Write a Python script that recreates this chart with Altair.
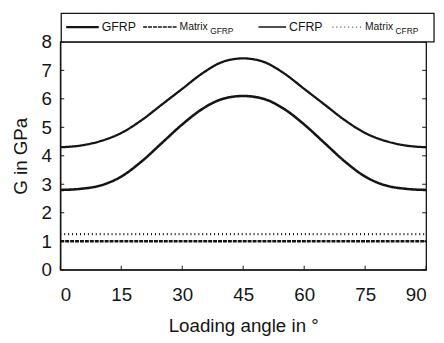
import altair as alt
import pandas as pd

angles = [0, 5, 10, 15, 20, 25, 30, 35, 40, 45, 50, 55, 60, 65, 70, 75, 80, 85, 90]
gfrp = [2.8, 2.84, 2.96, 3.27, 3.8, 4.45, 5.1, 5.65, 6.0, 6.1, 6.0, 5.65, 5.1, 4.45, 3.8, 3.27, 2.96, 2.84, 2.8]
cfrp = [4.3, 4.36, 4.52, 4.8, 5.25, 5.8, 6.35, 6.9, 7.3, 7.42, 7.3, 6.9, 6.35, 5.8, 5.25, 4.8, 4.52, 4.36, 4.3]
matrix_gfrp = [1.0] * len(angles)
matrix_cfrp = [1.25] * len(angles)
series_names = ["GFRP", "Matrix_GFRP", "CFRP", "Matrix_CFRP"]
x_ticks = [0, 15, 30, 45, 60, 75, 90]
y_ticks = [0, 1, 2, 3, 4, 5, 6, 7, 8]

rows = []
for name, vals in zip(series_names, [gfrp, matrix_gfrp, cfrp, matrix_cfrp]):
    for a, v in zip(angles, vals):
        rows.append({"angle": a, "G": v, "series": name})
df = pd.DataFrame(rows)

W, H = 371, 231
FONT = "Liberation Sans"
INK = "#151515"

xs = alt.Scale(domain=[0, 90], nice=False)
ys = alt.Scale(domain=[0, 8], nice=False)
x_axis = alt.Axis(values=x_ticks, title="Loading angle in °", ticks=False,
                  grid=False, labelPadding=16, titlePadding=13, labelOverlap=False)
y_axis = alt.Axis(values=y_ticks, title="G in GPa", ticks=False,
                  grid=False, labelPadding=9, titlePadding=11, labelOverlap=False)

lines = alt.Chart(df).mark_line(interpolate="monotone").encode(
    x=alt.X("angle:Q", scale=xs, axis=x_axis),
    y=alt.Y("G:Q", scale=ys, axis=y_axis),
    detail="series:N",
    color=alt.value(INK),
    strokeDash=alt.StrokeDash("series:N", legend=None,
                              scale=alt.Scale(domain=series_names,
                                              range=[[1, 0], [4, 1], [1, 0], [1, 3]])),
    strokeWidth=alt.StrokeWidth("series:N", legend=None,
                                scale=alt.Scale(domain=series_names, range=[2.6, 2.2, 1.7, 1.0])),
)

ytick_df = pd.DataFrame({"G": y_ticks})
xtick_df = pd.DataFrame({"angle": x_ticks})
yt_left = alt.Chart(ytick_df).mark_rule(color=INK, strokeWidth=1).encode(
    y=alt.Y("G:Q", scale=ys, axis=y_axis), x=alt.value(0), x2=alt.value(4))
yt_right = alt.Chart(ytick_df).mark_rule(color=INK, strokeWidth=1).encode(
    y=alt.Y("G:Q", scale=ys, axis=y_axis), x=alt.value(W - 4), x2=alt.value(W))
xt_bot = alt.Chart(xtick_df).mark_rule(color=INK, strokeWidth=1).encode(
    x=alt.X("angle:Q", scale=xs, axis=x_axis), y=alt.value(H - 4), y2=alt.value(H))

one = pd.DataFrame({"k": [0]})
LY = -15
box = alt.Chart(one).mark_rect(fill="white", stroke=INK, strokeWidth=1.3).encode(
    x=alt.value(1), x2=alt.value(379), y=alt.value(-29), y2=alt.value(0))

def leg_line(x1, x2, dash, sw):
    return alt.Chart(one).mark_rule(color=INK, strokeWidth=sw, strokeDash=dash).encode(
        x=alt.value(x1), x2=alt.value(x2), y=alt.value(LY))

def leg_text(x, txt, size=11, dy=0):
    return alt.Chart(one).mark_text(align="left", baseline="middle", font=FONT,
                                    fontSize=size, color=INK).encode(
        x=alt.value(x), y=alt.value(LY + dy), text=alt.value(txt))

legend = [
    box,
    leg_line(6, 39, [1, 0], 2.2), leg_text(42, "GFRP", 12.5),
    leg_line(84, 118, [4, 1], 1.6), leg_text(121, "Matrix", 10.5), leg_text(152, "GFRP", 8.5, 4),
    leg_line(201, 229, [1, 0], 1.6), leg_text(232, "CFRP", 12.5),
    leg_line(276, 306, [1, 3], 1.0), leg_text(309, "Matrix", 10.5), leg_text(340, "CFRP", 8.5, 4),
]

chart = alt.layer(lines, yt_left, yt_right, xt_bot, *legend).properties(
    width=W, height=H,
    background="white",
    autosize=alt.AutoSizeParams(type="none"),
    padding={"left": 53, "top": 32, "right": 10, "bottom": 72},
).configure_view(stroke=INK, strokeWidth=1.3).configure_axis(
    domainColor=INK, domainWidth=1.3,
    labelFont=FONT, labelFontSize=19, labelColor=INK,
    titleFont=FONT, titleFontSize=19, titleColor=INK, titleFontWeight="normal",
)

chart.save("out.html", embed_options={"renderer": "svg", "actions": False})
